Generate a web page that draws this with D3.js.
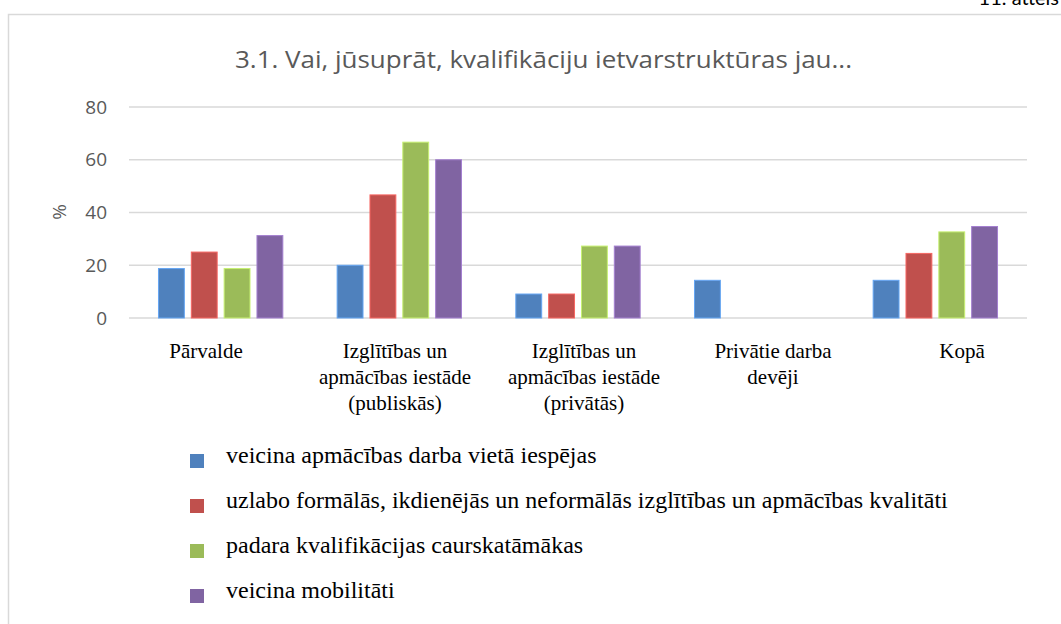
<!DOCTYPE html>
<html>
<head>
<meta charset="utf-8">
<script src="https://cdn.jsdelivr.net/npm/d3@7"></script>
<style>
  body { margin: 0; background: #fff; }
  svg { display: block; }
</style>
</head>
<body>
<svg width="1061" height="624"></svg>
<script>
// data
let categories = ["Pārvalde", "Izglītības un apmācības iestāde (publiskās)", "Izglītības un apmācības iestāde (privātās)", "Privātie darba devēji", "Kopā"]
let category_lines = [
    ["Pārvalde"],
    ["Izglītības un", "apmācības iestāde", "(publiskās)"],
    ["Izglītības un", "apmācības iestāde", "(privātās)"],
    ["Privātie darba", "devēji"],
    ["Kopā"]
]
let series = ["veicina apmācības darba vietā iespējas",
              "uzlabo formālās, ikdienējās un neformālās izglītības un apmācības kvalitāti",
              "padara kvalifikācijas caurskatāmākas",
              "veicina mobilitāti"]
let veicina_apmacibas = [18.75, 20, 9.09, 14.29, 14.29]
let uzlabo_kvalitati  = [25, 46.67, 9.09, 0, 24.49]
let padara_caurskat   = [18.75, 66.67, 27.27, 0, 32.65]
let veicina_mobilitati = [31.25, 60, 27.27, 0, 34.69]
let y_ticks = [0, 20, 40, 60, 80]
let colors = ["#4F81BD", "#C0504D", "#9BBB59", "#8064A2"]

let values = [veicina_apmacibas, uzlabo_kvalitati, padara_caurskat, veicina_mobilitati]
let bar_data = []
categories.forEach((c, ci) => {
    series.forEach((s, si) => bar_data.push({cat: c, ser: s, si: si, v: values[si][ci]}))
})

let serif = '"Liberation Serif"'

let svg = d3.select("svg")

// chart frame (runs off the right/bottom of the picture)
svg.append("rect")
   .attr("x", 8.5).attr("y", 14.5)
   .attr("width", 1100).attr("height", 700)
   .attr("fill", "none").attr("stroke", "#d9d9d9").attr("stroke-width", 1.5)

// caption cut off at the top, as in the page it came from
svg.append("text")
   .attr("x", 1059).attr("y", 5)
   .attr("text-anchor", "end")
   .attr("font-family", "Lato").attr("font-size", 20)
   .attr("fill", "#000")
   .text("11. attēls")

svg.append("text")
   .attr("x", 543.5).attr("y", 68)
   .attr("text-anchor", "middle")
   .attr("font-family", "Open Sans").attr("font-size", 24)
   .attr("textLength", 617).attr("lengthAdjust", "spacingAndGlyphs")
   .attr("fill", "#595959")
   .text("3.1. Vai, jūsuprāt, kvalifikāciju ietvarstruktūras jau...")

let y = d3.scaleLinear().domain([0, 80]).range([318, 107])
let x0 = d3.scaleBand().domain(categories).range([129, 1027])
           .paddingInner(0.304).paddingOuter(0.165)
let x1 = d3.scaleBand().domain(series).range([0, x0.bandwidth()]).paddingInner(7/33)

// gridlines
svg.append("g").selectAll("line")
   .data(y_ticks).join("line")
   .attr("x1", 129).attr("x2", 1027)
   .attr("y1", d => y(d)).attr("y2", d => y(d))
   .attr("stroke", "#d9d9d9").attr("stroke-width", 1.5)

// y axis labels
let yAxis = svg.append("g")
   .attr("transform", "translate(107,0)")
   .call(d3.axisLeft(y).tickValues(y_ticks).tickSize(0).tickPadding(0))
yAxis.select(".domain").remove()
yAxis.selectAll("text")
   .attr("font-family", "Open Sans").attr("font-size", 19)
   .attr("fill", "#595959")

svg.append("text")
   .attr("transform", "translate(66,212) rotate(-90)")
   .attr("text-anchor", "middle")
   .attr("font-family", "Open Sans").attr("font-size", 19)
   .attr("fill", "#595959")
   .text("%")

// bars
svg.append("g").selectAll("rect")
   .data(bar_data.filter(d => d.v > 0)).join("rect")
   .attr("x", d => x0(d.cat) + x1(d.ser))
   .attr("y", d => y(d.v))
   .attr("width", x1.bandwidth())
   .attr("height", d => y(0) - y(d.v))
   .attr("fill", d => colors[d.si])
   .attr("stroke", d => d3.color(colors[d.si]).brighter(0.7))
   .attr("stroke-width", 1)

// category labels (sit a bit wider apart than the bars in the picture)
let xl = d3.scaleBand().domain(categories).range([111.5, 1056.5])
let catg = svg.append("g").selectAll("text")
   .data(categories).join("text")
   .attr("font-family", serif)
   .attr("x", d => xl(d) + xl.bandwidth() / 2)
   .attr("y", 358)
   .attr("text-anchor", "middle")
   .attr("font-size", 21)
   .attr("fill", "#000")
catg.selectAll("tspan")
   .data((d, i) => category_lines[i]).join("tspan")
   .attr("x", function() { return d3.select(this.parentNode).attr("x") })
   .attr("dy", (d, i) => i == 0 ? 0 : 26)
   .text(d => d)

// legend
let leg = svg.append("g").selectAll("g")
   .data(series).join("g")
   .attr("transform", (d, i) => `translate(190,${454 + i * 45})`)
leg.append("rect")
   .attr("width", 14).attr("height", 14)
   .attr("fill", (d, i) => colors[i])
leg.append("text")
   .attr("font-family", serif)
   .attr("x", 36).attr("y", 9)
   .attr("font-size", 24)
   .attr("fill", "#000")
   .text(d => d)
</script>
</body>
</html>
